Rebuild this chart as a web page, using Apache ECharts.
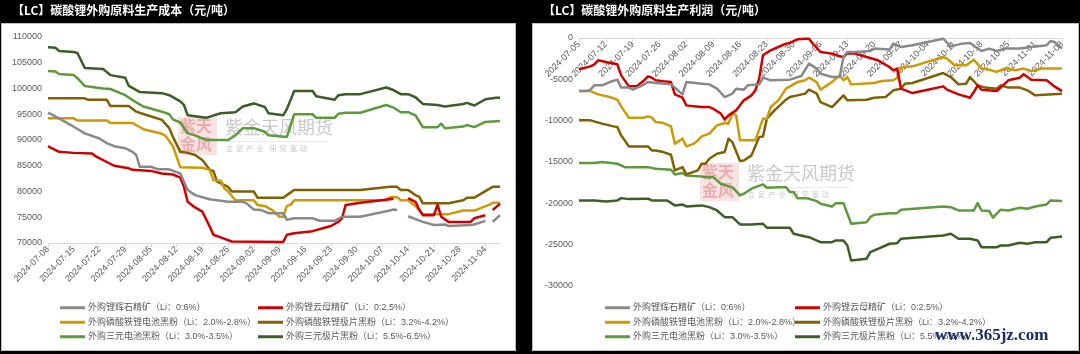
<!DOCTYPE html>
<html>
<head>
<meta charset="utf-8">
<script src="https://cdn.jsdelivr.net/npm/echarts@6/dist/echarts.min.js"></script>
<style>
  html, body { margin: 0; padding: 0; background: #000; }
  .panel { position: absolute; top: 23px; height: 328px; background: #fff; border: 1px solid #bfbfbf; box-sizing: border-box; }
  #chart { position: absolute; left: 0; top: 0; width: 1080px; height: 354px; }
</style>
</head>
<body>
<div class="panel" style="left:1px;width:515px"></div>
<div class="panel" style="left:532px;width:547px"></div>
<div id="chart"></div>
<script>
// categories: every calendar day, ticks every 7 days
const leftStart = '2024-07-08'
const rightStart = '2024-07-05'
const endDay = '2024-11-08'

const names = [
  '外购锂辉石精矿（Li：0:6%）',
  '外购锂云母精矿（Li：0:2.5%）',
  '外购磷酸铁锂电池黑粉（Li：2.0%-2.8%）',
  '外购磷酸铁锂极片黑粉（Li：3.2%-4.2%）',
  '外购三元电池黑粉（Li：3.0%-3.5%）',
  '外购三元极片黑粉（Li：5.5%-6.5%）'
]
const colors = ['#898989', '#d10000', '#cc9a06', '#806000', '#5e9a3c', '#3b5e27']

// 生产成本 (元/吨)
const costSpodumene = [['07-08',95300],['07-10',94600],['07-14',93000],['07-18',91300],['07-22',90300],['07-24',89400],['07-26',88800],['07-29',88400],['07-31',87700],['08-01',87100],['08-02',84800],['08-05',84800],['08-07',84300],['08-10',84300],['08-13',83500],['08-15',80300],['08-17',79300],['08-21',78500],['08-26',78000],['08-30',78000],['08-31',77700],['09-02',76500],['09-04',76400],['09-06',75800],['09-10',75800],['09-11',74500],['09-13',74800],['09-18',74800],['09-20',74300],['09-24',74300],['09-26',75100],['10-01',75100],['10-09',76300],['10-10',76500],['10-11',76400],['10-12','-'],['10-14',75200],['10-18',74100],['10-21',73500],['10-24',73600],['10-25',73300],['10-31',73500],['11-01',73600],['11-04',74300],['11-05','-'],['11-06',74100],['11-08',75400]]
const costLepidolite = [['07-08',88800],['07-09',88400],['07-11',87700],['07-15',87500],['07-20',87400],['07-21',86800],['07-23',86100],['07-26',85000],['07-30',84500],['07-31',84200],['08-05',84000],['08-08',83500],['08-11',83300],['08-13',82700],['08-14',80900],['08-15',78000],['08-17',76900],['08-19',76100],['08-21',73200],['08-22',71600],['08-24',71100],['08-27',70300],['09-10',70200],['09-11',71600],['09-13',71900],['09-18',72300],['09-21',72900],['09-23',73300],['09-25',74100],['09-26',74800],['09-27',77400],['10-01',77800],['10-09',78500],['10-10',78600],['10-12','-'],['10-14',78700],['10-16',78000],['10-17',76500],['10-18',75400],['10-21',75400],['10-22',77400],['10-23',75100],['10-25',74100],['10-31',74100],['11-01',74800],['11-04',75400],['11-05','-'],['11-06',76400],['11-08',77600]]
const costLfpBattery = [['07-08',94200],['07-15',94200],['07-16',93800],['07-24',93800],['07-25',93300],['07-31',93300],['08-03',92100],['08-08',91200],['08-09',90800],['08-11',88800],['08-13',84700],['08-19',84600],['08-21',84200],['08-22',82200],['08-24',82100],['08-25',80600],['08-26',80000],['08-28',78300],['09-02',78300],['09-03',77400],['09-05',77200],['09-07',76400],['09-09',75100],['09-10',75100],['09-11',77200],['09-12',77400],['09-13',78300],['10-08',78300],['10-09',78900],['10-11',78900],['10-12',78300],['10-14',78300],['10-16',77200],['10-17',76400],['10-18',75600],['10-25',75600],['10-29',76300],['11-01',76300],['11-05',77400],['11-06',77800],['11-08',77800]]
const costLfpSheet = [['07-08',98100],['07-18',98100],['07-19',97800],['07-24',97800],['07-25',96600],['07-30',96600],['08-01',95500],['08-04',94800],['08-08',93900],['08-10',92300],['08-11',90600],['08-13',87700],['08-15',87500],['08-17',87100],['08-19',86100],['08-21',84200],['08-22',84000],['08-23',81900],['08-26',80900],['08-27',80000],['09-02',80000],['09-03',78800],['09-10',78800],['09-11',79300],['09-13',80300],['10-01',80300],['10-09',80900],['10-11',80900],['10-12',80300],['10-14',80300],['10-16',79300],['10-17',79000],['10-18',77700],['10-25',77700],['10-29',78300],['10-30',78800],['11-01',78800],['11-06',80900],['11-08',80900]]
const costNcmBattery = [['07-08',103400],['07-10',103300],['07-11',102800],['07-15',102600],['07-16',102000],['07-18',100500],['07-23',100000],['07-25',99900],['07-29',98700],['08-01',97300],['08-03',96500],['08-08',95500],['08-10',95000],['08-11',94000],['08-13',93400],['08-15',91300],['08-17',90900],['08-20',90000],['08-26',90000],['08-28',90900],['08-30',92300],['09-02',92300],['09-05',91600],['09-06',90900],['09-11',90600],['09-13',95000],['09-18',95000],['09-19',94300],['09-24',94300],['09-25',95100],['09-27',95300],['10-01',95300],['10-08',96800],['10-10',96300],['10-12',95400],['10-14',95400],['10-16',94800],['10-18',92500],['10-22',92500],['10-23',93200],['10-24',92300],['10-29',92600],['10-30',92900],['11-01',92500],['11-04',93500],['11-08',93700]]
const costNcmSheet = [['07-08',108000],['07-10',107900],['07-11',107300],['07-15',107100],['07-16',106900],['07-18',104000],['07-23',103800],['07-25',102600],['07-29',102100],['07-30',100500],['08-02',99300],['08-08',99100],['08-10',98700],['08-13',97500],['08-14',96800],['08-15',94800],['08-20',94300],['08-24',95200],['08-28',95400],['08-30',96500],['09-02',97100],['09-05',96400],['09-06',95200],['09-10',94800],['09-11',96000],['09-13',99500],['09-18',99500],['09-19',98500],['09-24',97800],['09-25',98700],['09-27',98900],['10-01',98900],['10-08',100200],['10-10',99700],['10-12',98900],['10-14',98900],['10-16',98300],['10-18',97000],['10-22',96800],['10-24',96500],['10-29',97000],['10-30',97200],['11-01',96700],['11-04',97900],['11-07',98200],['11-08',98200]]

// 生产利润 (元/吨)
const profitSpodumene = [['07-05',-6420],['07-07',-6420],['07-08',-6250],['07-09',-5730],['07-11',-5730],['07-13',-5330],['07-15',-5040],['07-16',-6000],['07-18',-6000],['07-19',-6250],['07-21',-5850],['07-23',-5330],['07-25',-5450],['07-29',-5610],['07-30',-6000],['08-01',-6820],['08-02',-5330],['08-06',-5520],['08-08',-5610],['08-10',-6130],['08-12',-7140],['08-14',-6730],['08-15',-6130],['08-17',-6250],['08-18',-5730],['08-21',-5610],['08-22',-4800],['08-24',-5120],['08-29',-5040],['09-01',-4600],['09-03',-3100],['09-05',-3700],['09-06',-4310],['09-09',-4720],['09-11',-4720],['09-12',-2300],['09-13',-1690],['09-15',-1690],['09-19',-1570],['09-20',-1280],['09-24',-1400],['09-25',-680],['09-27',-1090],['09-30',-880],['10-08',-80],['10-10',-1000],['10-13',-680],['10-15',-600],['10-18',-1570],['10-20',-1280],['10-22',-1570],['10-24',-1280],['10-28',-1280],['10-31',-1090],['11-04',-880],['11-05',-360],['11-06',-480],['11-08',-1280]]
const profitLepidolite = [['07-05',-3790],['07-08',-3430],['07-09',-3180],['07-10',-2700],['07-12',-2900],['07-15',-3180],['07-16',-4520],['07-18',-5850],['07-20',-5850],['07-22',-5120],['07-23',-4640],['07-24',-4800],['07-25',-5120],['07-27',-5240],['07-29',-5330],['07-30',-6820],['08-01',-7220],['08-02',-8150],['08-04',-8270],['08-06',-8350],['08-08',-8350],['08-09',-8550],['08-11',-9150],['08-12',-9880],['08-13',-9360],['08-15',-8750],['08-17',-7540],['08-19',-6940],['08-20',-6330],['08-21',-4920],['08-22',-2090],['08-24',-1490],['08-26',-1090],['08-28',-680],['08-29',-600],['08-31',-160],['09-02',-80],['09-03',-80],['09-04',-680],['09-06',-1690],['09-09',-1890],['09-11',-2220],['09-12',-2300],['09-13',-1890],['09-15',-1890],['09-18',-2300],['09-21',-2700],['09-24',-3510],['09-25',-3910],['09-26',-3700],['09-27',-6130],['09-30',-6660],['10-04',-6250],['10-08',-5850],['10-09',-6250],['10-12',-6820],['10-15',-7220],['10-16',-6540],['10-17',-5730],['10-18',-6250],['10-22',-6420],['10-25',-5120],['10-28',-4800],['10-29',-4390],['10-31',-5040],['11-04',-5120],['11-06',-5850],['11-08',-6420]]
const profitLfpBattery = [['07-05',-6420],['07-08',-6420],['07-10',-6820],['07-13',-7140],['07-15',-7460],['07-16',-8270],['07-18',-9640],['07-22',-9640],['07-23',-9480],['07-24',-9640],['07-25',-10170],['07-27',-10290],['07-29',-10690],['07-30',-12780],['08-01',-12180],['08-02',-13110],['08-04',-12780],['08-05',-12380],['08-06',-11900],['08-08',-11570],['08-10',-10570],['08-12',-10290],['08-13',-10360],['08-14',-9150],['08-15',-9360],['08-16',-12380],['08-20',-12380],['08-22',-9760],['08-23',-9760],['08-24',-8350],['08-26',-7540],['08-28',-6130],['08-29',-5850],['08-31',-5330],['09-02',-5120],['09-03',-4800],['09-05',-5330],['09-06',-6250],['09-09',-5330],['09-11',-4520],['09-12',-5120],['09-13',-4720],['09-14',-5610],['09-20',-5450],['09-22',-5200],['09-25',-5120],['09-26',-4800],['09-27',-3580],['09-30',-3430],['10-08',-2300],['10-09',-2500],['10-11',-3300],['10-14',-3300],['10-16',-2620],['10-18',-3700],['10-20',-3830],['10-22',-4110],['10-24',-3700],['10-27',-3910],['10-29',-3700],['10-31',-4000],['11-03',-3700],['11-08',-3700]]
const profitLfpSheet = [['07-05',-9960],['07-08',-9960],['07-11',-10360],['07-14',-10690],['07-15',-10770],['07-16',-11780],['07-18',-13110],['07-23',-13110],['07-24',-13600],['07-25',-13600],['07-27',-13800],['07-29',-14120],['07-30',-16020],['08-01',-15620],['08-02',-16500],['08-05',-16020],['08-06',-15210],['08-07',-15210],['08-08',-14600],['08-10',-14000],['08-12',-13800],['08-13',-12180],['08-14',-12590],['08-16',-14890],['08-17',-14810],['08-19',-14200],['08-21',-11990],['08-22',-11900],['08-23',-9760],['08-25',-8750],['08-28',-7460],['08-29',-7140],['08-31',-6940],['09-02',-6730],['09-03',-6250],['09-05',-6730],['09-06',-7750],['09-09',-8350],['09-12',-6940],['09-13',-7540],['09-18',-7460],['09-20',-7220],['09-23',-7140],['09-25',-6330],['09-27',-6130],['09-28',-5520],['09-30',-5450],['10-08',-4240],['10-10',-4720],['10-12',-5610],['10-14',-5520],['10-15',-4720],['10-17',-5730],['10-19',-6000],['10-22',-6130],['10-23',-5730],['10-25',-6000],['10-28',-6000],['10-30',-6330],['11-01',-6940],['11-08',-6730]]
const profitNcmBattery = [['07-05',-15130],['07-09',-15130],['07-11',-15010],['07-15',-15210],['07-17',-15620],['07-23',-15620],['07-25',-15810],['07-29',-15930],['07-30',-16500],['08-01',-16340],['08-02',-16620],['08-06',-16740],['08-07',-16830],['08-09',-16830],['08-11',-17630],['08-13',-17950],['08-14',-18040],['08-16',-19040],['08-17',-18840],['08-19',-18230],['08-20',-18040],['08-22',-17710],['08-23',-18110],['08-26',-18040],['08-28',-18040],['08-29',-18640],['08-30',-18640],['08-31',-19370],['09-02',-19370],['09-03',-19440],['09-05',-19730],['09-06',-20050],['09-09',-20380],['09-10',-19980],['09-12',-19980],['09-14',-22470],['09-18',-22280],['09-19',-21670],['09-20',-21380],['09-24',-21190],['09-26',-21190],['09-27',-20770],['10-08',-20380],['10-10',-20460],['10-12',-20860],['10-16',-20860],['10-17',-19980],['10-18',-20860],['10-20',-20940],['10-21',-21740],['10-23',-20770],['10-25',-20860],['10-28',-20530],['10-30',-20650],['11-01',-20380],['11-04',-20130],['11-05',-19650],['11-08',-19730]]
const profitNcmSheet = [['07-05',-19650],['07-09',-19650],['07-12',-19770],['07-15',-19650],['07-16',-19370],['07-18',-19490],['07-23',-19440],['07-24',-19650],['07-28',-19650],['07-30',-20250],['08-01',-20150],['08-02',-20380],['08-06',-20250],['08-08',-20460],['08-10',-20860],['08-12',-21670],['08-14',-21670],['08-16',-22550],['08-19',-22550],['08-22',-22470],['08-23',-22950],['08-29',-22950],['08-30',-23680],['09-02',-24010],['09-03',-24090],['09-06',-24700],['09-09',-24700],['09-10',-24490],['09-12',-24490],['09-13',-25100],['09-14',-26910],['09-18',-26710],['09-19',-25910],['09-21',-25500],['09-24',-24890],['09-26',-24820],['09-27',-24290],['10-08',-23890],['10-10',-23680],['10-12',-24290],['10-15',-24290],['10-17',-24490],['10-18',-25300],['10-22',-25300],['10-23',-25100],['10-25',-25100],['10-28',-24770],['10-30',-24890],['11-01',-24700],['11-04',-24700],['11-05',-24170],['11-08',-24010]]

const costSeries = [costSpodumene, costLepidolite, costLfpBattery, costLfpSheet, costNcmBattery, costNcmSheet]
const profitSeries = [profitSpodumene, profitLepidolite, profitLfpBattery, profitLfpSheet, profitNcmBattery, profitNcmSheet]

const dayRange = (start, end) => {
  const out = []
  const d = new Date(start + 'T00:00:00Z')
  const last = new Date(end + 'T00:00:00Z')
  while (d <= last) {
    out.push(d.toISOString().slice(0, 10))
    d.setUTCDate(d.getUTCDate() + 1)
  }
  return out
}
const leftDays = dayRange(leftStart, endDay)
const rightDays = dayRange(rightStart, endDay)

const toPairs = (list) => list.map(p => ['2024-' + p[0], p[1]])

const font = 'Liberation Sans, Noto Sans CJK SC, sans-serif'
const cjk = 'Noto Sans CJK SC, sans-serif'

// right chart: axis sits at y = 0 (top), labels hang down into the plot
const xAxisBase = (days, gridIndex, top) => ({
  type: 'category',
  gridIndex,
  data: days,
  position: top ? 'top' : 'bottom',
  boundaryGap: false,
  axisLine: { lineStyle: { color: '#d9d9d9', width: 1 } },
  axisTick: { show: true, inside: !!top, interval: 6, length: 4, lineStyle: { color: '#d9d9d9' } },
  axisLabel: { inside: !!top, interval: 6, rotate: 45, fontSize: 9, color: '#595959', fontFamily: font, margin: 5 },
  splitLine: { show: false }
})

const yAxisBase = (gridIndex, min, max) => ({
  type: 'value',
  gridIndex,
  min,
  max,
  interval: 5000,
  axisLine: { show: false },
  axisTick: { show: false },
  splitLine: { show: false },
  axisLabel: { fontSize: 9, color: '#595959', fontFamily: font, margin: 6, formatter: v => String(v) }
})

const makeSeries = (lists, idx) => lists.map((list, i) => ({
  name: names[i],
  type: 'line',
  xAxisIndex: idx,
  yAxisIndex: idx,
  data: toPairs(list),
  showSymbol: false,
  symbol: 'none',
  connectNulls: false,
  lineStyle: { color: colors[i], width: 2.5, join: 'round' },
  itemStyle: { color: colors[i] },
  emphasis: { disabled: true },
  z: 3 + (5 - i)
}))

const legendBase = (left, items) => ({
  orient: 'vertical',
  left,
  top: 302,
  itemWidth: 25,
  itemHeight: 3,
  itemGap: 3,
  icon: 'rect',
  selectedMode: false,
  padding: 0,
  data: items,
  textStyle: { fontSize: 9, color: '#595959', fontFamily: font, lineHeight: 11.5, padding: [0, 0, 0, -2] }
})

const watermark = (x, y) => [
  { type: 'rect', left: x, top: y, shape: { width: 39, height: 38 }, style: { fill: 'rgba(214,80,80,0.16)' }, z: 1 },
  { type: 'text', left: x + 2, top: y + 1, style: { text: '紫天', font: 'bold 16px ' + cjk, fill: 'rgba(205,70,70,0.35)' }, z: 1 },
  { type: 'text', left: x + 2, top: y + 19, style: { text: '金风', font: 'bold 16px ' + cjk, fill: 'rgba(205,70,70,0.35)' }, z: 1 },
  { type: 'text', left: x + 47, top: y + 1, style: { text: '紫金天风期货', font: '18px ' + cjk, fill: '#c9c9c9' }, z: 1 },
  { type: 'rect', left: x + 47, top: y + 24, shape: { width: 103, height: 0.8 }, style: { fill: '#e2e2e2' }, z: 1 },
  { type: 'text', left: x + 48, top: y + 28, style: { text: '立  足  产  业    研  究  驱  动', font: '7px ' + cjk, fill: '#c4c4c4' }, z: 1 }
]

const chart = echarts.init(document.getElementById('chart'))

chart.setOption({
  backgroundColor: 'transparent',
  animation: false,
  title: [
    { text: '【LC】碳酸锂外购原料生产成本（元/吨）', left: 12, top: 4, padding: 0, textStyle: { color: '#fff', fontSize: 12, fontWeight: 'bold', fontFamily: cjk } },
    { text: '【LC】碳酸锂外购原料生产利润（元/吨）', left: 543, top: 4, padding: 0, textStyle: { color: '#fff', fontSize: 12, fontWeight: 'bold', fontFamily: cjk } }
  ],
  grid: [
    { left: 48, top: 37, width: 452, bottom: 111 },
    { left: 579, top: 38, width: 483, bottom: 68 }
  ],
  xAxis: [xAxisBase(leftDays, 0, false), xAxisBase(rightDays, 1, true)],
  yAxis: [yAxisBase(0, 70000, 110000), yAxisBase(1, -30000, 0)],
  legend: [
    legendBase(60, [names[0], names[2], names[4]]),
    legendBase(258, [names[1], names[3], names[5]]),
    legendBase(605, [names[0], names[2], names[4]]),
    legendBase(795, [names[1], names[3], names[5]])
  ],
  graphic: [
    ...watermark(178, 117),
    ...watermark(700, 163),
    { type: 'text', left: 935, top: 327, style: { text: 'www.365jz.com', font: 'bold 17px Liberation Serif, DejaVu Serif, serif', fill: '#1b2b6e' }, z: 10 }
  ],
  series: [...makeSeries(costSeries, 0), ...makeSeries(profitSeries, 1)]
})
</script>
</body>
</html>
